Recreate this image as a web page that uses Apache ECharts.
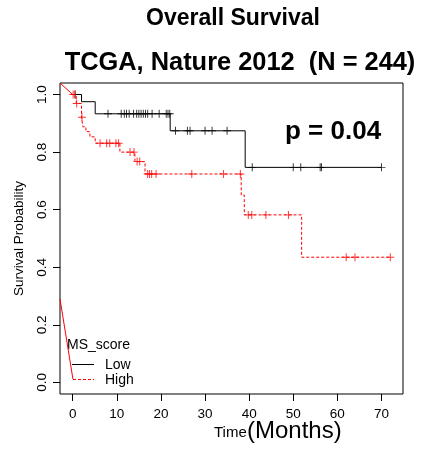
<!DOCTYPE html>
<html>
<head>
<meta charset="utf-8">
<script src="https://cdn.jsdelivr.net/npm/echarts@6/dist/echarts.min.js"></script>
<style>
html,body{margin:0;padding:0;background:#fff;}
#main{width:422px;height:449px;}
</style>
</head>
<body>
<div id="main"></div>
<script>
// MS_score = Low : step times (months) and survival after each step
var lowTimes = [0, 2.0, 5.1, 22.1, 39.1, 70];
var lowSurv  = [1, 0.975, 0.933, 0.874, 0.747, 0.747];
var lowCensor = [0.5, 8, 11, 11.7, 12.2, 12.8, 13.8, 14.5, 15, 15.5, 16, 16.5, 17, 18, 19.6, 21.2, 21.6, 22,
                 23.3, 26, 26.6, 30, 31.6, 35, 40.7, 50, 51.7, 56.1, 56.4, 70];
// MS_score = High
var highTimes = [0, 0.8, 2.0, 2.3, 3.0, 3.9, 5.1, 10.7, 14.1, 16.4, 38.2, 38.9, 51.9, 72];
var highSurv  = [1, 0.969, 0.921, 0.888, 0.871, 0.853, 0.831, 0.80, 0.767, 0.724, 0.651, 0.582, 0.435, 0.435];
var highCensor = [0.1, 0.6, 0.9, 2.1, 6.2, 7.7, 8.4, 9.8, 10.4, 13, 13.9, 14.6, 15.2, 17, 17.4, 17.9, 18.9,
                  27, 34.2, 38, 39.8, 40.6, 43.8, 48.9, 62, 64, 72];
// stray red segments that appear in the original plot
var strayTop = [[-2.88, 1.04], [0, 1.0]];
var strayBottom = [[-2.88, 0.29], [0.05, 0.012]];

var xTicks = [0, 10, 20, 30, 40, 50, 60, 70];
var yTicks = [0, 0.2, 0.4, 0.6, 0.8, 1.0];

function pairs(t, s) {
  var out = [];
  for (var i = 0; i < t.length; i++) out.push([t[i], s[i]]);
  return out;
}
function survAt(t, s, x) {
  var v = s[0];
  for (var i = 0; i < t.length; i++) { if (t[i] <= x) v = s[i]; }
  return v;
}
function censorPts(c, t, s) {
  return c.map(function (x) { return [x, survAt(t, s, x)]; });
}

var FONT = 'Liberation Sans, Arial, sans-serif';
var plus = 'path://M4.4,0H5.6V4.4H10V5.6H5.6V10H4.4V5.6H0V4.4H4.4Z';

var myChart = echarts.init(document.getElementById('main'));
var option = {
  animation: false,
  backgroundColor: '#fff',
  grid: {
    left: 60, right: 19, top: 83, bottom: 55,
    show: true, borderColor: '#000', borderWidth: 1, backgroundColor: 'transparent'
  },
  xAxis: {
    type: 'value', min: -2.88, max: 74.88,
    splitLine: { show: false },
    axisLine: { show: false, onZero: false },
    axisTick: { show: true, length: 7, customValues: xTicks, lineStyle: { color: '#000' } },
    axisLabel: { customValues: xTicks, color: '#000', fontSize: 13.5, fontFamily: FONT, margin: 13 }
  },
  yAxis: {
    type: 'value', min: -0.04, max: 1.04,
    splitLine: { show: false },
    axisLine: { show: false, onZero: false },
    axisTick: { show: true, length: 7, customValues: yTicks, lineStyle: { color: '#000' } },
    axisLabel: {
      customValues: yTicks, rotate: 90, color: '#000', fontSize: 13.5, fontFamily: FONT, margin: 11,
      formatter: function (v) { return v.toFixed(1); }
    },
    name: 'Survival Probability', nameLocation: 'middle', nameGap: 34, nameRotate: 90,
    nameTextStyle: { color: '#000', fontSize: 13.5, fontFamily: FONT }
  },
  series: [
    {
      name: 'Low', type: 'line', step: 'end', symbol: 'none',
      data: pairs(lowTimes, lowSurv),
      lineStyle: { color: '#000', width: 1 }
    },
    {
      name: 'High', type: 'line', step: 'end', symbol: 'none',
      data: pairs(highTimes, highSurv),
      lineStyle: { color: '#ff0000', width: 1, type: [3, 2] }
    },
    {
      type: 'scatter', symbol: plus, symbolSize: 8,
      data: censorPts(lowCensor, lowTimes, lowSurv),
      itemStyle: { color: '#000' }
    },
    {
      type: 'scatter', symbol: plus, symbolSize: 8,
      data: censorPts(highCensor, highTimes, highSurv),
      itemStyle: { color: '#ff0000' }
    },
    {
      type: 'line', symbol: 'none', data: strayTop,
      lineStyle: { color: '#ff0000', width: 1 }
    },
    {
      type: 'line', symbol: 'none', data: strayBottom,
      lineStyle: { color: '#ff0000', width: 1 }
    }
  ],
  graphic: [
    { type: 'text', x: 233, y: 19, style: { text: 'Overall Survival', font: 'bold 23px ' + FONT, fill: '#000', align: 'center', verticalAlign: 'middle' } },
    { type: 'text', x: 240, y: 63, style: { text: 'TCGA, Nature 2012  (N = 244)', font: 'bold 25.4px ' + FONT, fill: '#000', align: 'center', verticalAlign: 'middle' } },
    { type: 'text', x: 285, y: 132, style: { text: 'p = 0.04', font: 'bold 26px ' + FONT, fill: '#000', align: 'left', verticalAlign: 'middle' } },
    // legend
    { type: 'text', x: 67, y: 345, style: { text: 'MS_score', font: '14px ' + FONT, fill: '#000', align: 'left', verticalAlign: 'middle' } },
    { type: 'line', shape: { x1: 72, y1: 364.5, x2: 94, y2: 364.5 }, style: { stroke: '#000', lineWidth: 1 } },
    { type: 'text', x: 105, y: 365, style: { text: 'Low', font: '14px ' + FONT, fill: '#000', align: 'left', verticalAlign: 'middle' } },
    { type: 'line', shape: { x1: 73, y1: 379.5, x2: 94, y2: 379.5 }, style: { stroke: '#ff0000', lineWidth: 1, lineDash: [3, 2] } },
    { type: 'text', x: 105, y: 380, style: { text: 'High', font: '14px ' + FONT, fill: '#000', align: 'left', verticalAlign: 'middle' } },
    // x axis title
    { type: 'text', x: 214, y: 440, style: { text: 'Time', font: '15px ' + FONT, fill: '#000', align: 'left', verticalAlign: 'bottom' } },
    { type: 'text', x: 247, y: 443, style: { text: '(Months)', font: '24px ' + FONT, fill: '#000', align: 'left', verticalAlign: 'bottom' } }
  ]
};
option && myChart.setOption(option);
</script>
</body>
</html>
